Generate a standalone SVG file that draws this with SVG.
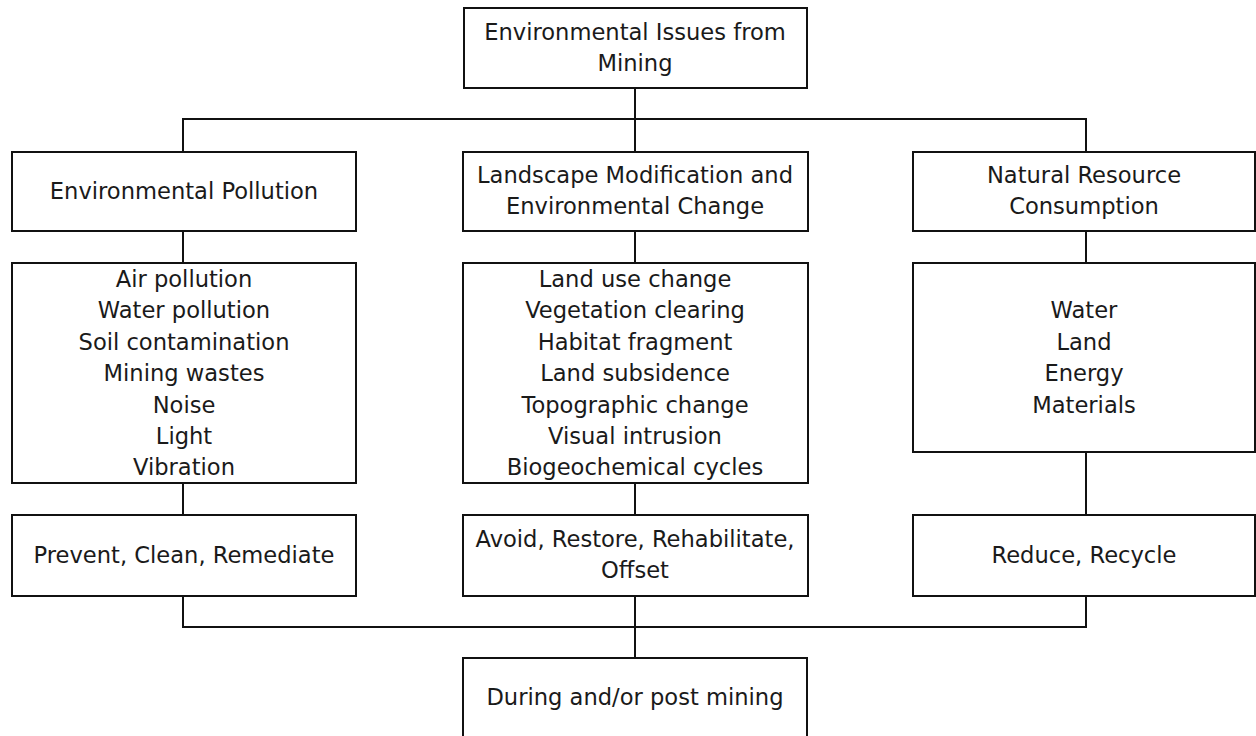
<svg xmlns="http://www.w3.org/2000/svg" width="1256" height="736" viewBox="0 0 1256 736">
<style>
.box{fill:#fff;stroke:#111;stroke-width:2}
.ln{fill:none;stroke:#111;stroke-width:2}
text{font-family:"DejaVu Sans",Verdana,sans-serif;font-size:22.6px;fill:#1a1a1a;text-anchor:middle}
</style>
<rect width="1256" height="736" fill="#fff"/>
<g id="connectors">
<path class="ln" d="M635 88V152M183 152V119H1086V152"/>
<path class="ln" d="M183 231V263M635 231V263M1086 231V263"/>
<path class="ln" d="M183 483V515M635 483V515M1086 452V515"/>
<path class="ln" d="M183 596V627H1086V596M635 596V658"/>
</g>
<g id="root"><rect class="box" x="464" y="8" width="343" height="80"/><text x="635" y="40">Environmental Issues from</text><text x="635" y="71">Mining</text></g>
<g id="pollution"><rect class="box" x="12" y="152" width="344" height="79"/><text x="184" y="199">Environmental Pollution</text></g>
<g id="landscape"><rect class="box" x="463" y="152" width="345" height="79"/><text x="635" y="183">Landscape Modification and</text><text x="635" y="214">Environmental Change</text></g>
<g id="resource"><rect class="box" x="913" y="152" width="342" height="79"/><text x="1084" y="183">Natural Resource</text><text x="1084" y="214">Consumption</text></g>
<g id="pollution-list"><rect class="box" x="12" y="263" width="344" height="220"/>
<text x="184" y="287">Air pollution</text><text x="184" y="318.4">Water pollution</text><text x="184" y="349.8">Soil contamination</text><text x="184" y="381.2">Mining wastes</text><text x="184" y="412.6">Noise</text><text x="184" y="444">Light</text><text x="184" y="475.4">Vibration</text></g>
<g id="landscape-list"><rect class="box" x="463" y="263" width="345" height="220"/>
<text x="635" y="287">Land use change</text><text x="635" y="318.4">Vegetation clearing</text><text x="635" y="349.8">Habitat fragment</text><text x="635" y="381.2">Land subsidence</text><text x="635" y="412.6">Topographic change</text><text x="635" y="444">Visual intrusion</text><text x="635" y="475.4">Biogeochemical cycles</text></g>
<g id="resource-list"><rect class="box" x="913" y="263" width="342" height="189"/>
<text x="1084" y="318">Water</text><text x="1084" y="349.6">Land</text><text x="1084" y="381.2">Energy</text><text x="1084" y="412.8">Materials</text></g>
<g id="pollution-action"><rect class="box" x="12" y="515" width="344" height="81"/><text x="184" y="563">Prevent, Clean, Remediate</text></g>
<g id="landscape-action"><rect class="box" x="463" y="515" width="345" height="81"/><text x="635" y="547">Avoid, Restore, Rehabilitate,</text><text x="635" y="578">Offset</text></g>
<g id="resource-action"><rect class="box" x="913" y="515" width="342" height="81"/><text x="1084" y="563">Reduce, Recycle</text></g>
<g id="timing"><rect class="box" x="463" y="658" width="344" height="82"/><text x="635" y="705">During and/or post mining</text></g>
</svg>
